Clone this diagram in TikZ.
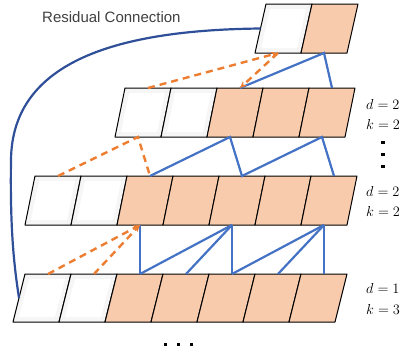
\documentclass[tikz,border=0pt]{standalone}
\usepackage{amsmath}
\usepackage{xcolor}
\usepackage{fontspec}
\usepackage{tikz}
\usetikzlibrary{arrows.meta}
\newfontfamily\labelfont{Liberation Sans}
\definecolor{cellorange}{HTML}{F8CBAD}
\definecolor{linkblue}{HTML}{4472C4}
\definecolor{resblue}{HTML}{2F4F99}
\definecolor{padorange}{HTML}{ED7D31}

% a row of cells: name, top-left x, top y, skew, height, white cells, all cells
\newcommand{\cellrow}[7]{%
  \foreach \i in {1,...,#7}{
    \pgfmathsetmacro\xa{#2+(\i-1)*46}
    \ifnum\i>#6
      \fill[cellorange] (\xa,#3) -- ++(46,0) -- ++(-#4,#5) -- ++(-46,0) -- cycle;
    \else
      \fill[gray!7] (\xa,#3) -- ++(46,0) -- ++(-#4,#5) -- ++(-46,0) -- cycle;
      \fill[white] (\xa+4,#3+5) -- (\xa+40,#3+5) -- (\xa+42-#4,#3+#5-5) -- (\xa+6-#4,#3+#5-5) -- cycle;
      \draw[gray!18,very thin] (\xa,#3) -- (\xa+4,#3+5) (\xa+46,#3) -- (\xa+40,#3+5)
        (\xa+46-#4,#3+#5) -- (\xa+42-#4,#3+#5-5) (\xa-#4,#3+#5) -- (\xa+6-#4,#3+#5-5);
    \fi
    \draw[cellline] (\xa,#3) -- ++(46,0) -- ++(-#4,#5) -- ++(-46,0) -- cycle;
    \coordinate (#1-\i-t) at (\xa+23,#3);
    \coordinate (#1-\i-b) at (\xa+23-#4,#3+#5);
    \coordinate (#1-\i-l) at (\xa-#4/2,#3+#5/2);
  }
}

\begin{document}
\begin{tikzpicture}[x=1pt,y=-1pt,>={Stealth[length=7pt,width=6pt]},
  cellline/.style={black,line width=1pt,line join=round},
  conv/.style={linkblue,line width=2.2pt},
  pad/.style={padorange,line width=2.4pt,dash pattern=on 7pt off 5pt},
  lab/.style={anchor=west,inner sep=0pt,font=\fontsize{14.5}{16}\selectfont}]
  \useasboundingbox (0,0) rectangle (407,351);
  % righe di celle
  \cellrow{r1}{266}{4}{11}{49}{1}{2}
  \cellrow{r2}{125}{88}{10}{49}{2}{5}
  \cellrow{r3}{35}{176}{10}{49}{2}{7}
  \cellrow{r4}{25}{274}{12}{48}{2}{7}
  % residual
  \node[anchor=west,inner sep=0pt,text=black!75,font=\labelfont\fontsize{15}{17}\selectfont] (res) at (42,17) {Residual Connection};
  \coordinate (bend) at (11,160);
  \draw[resblue,line width=2.2pt] (r1-1-l) .. controls (120,30) and (12,60) .. (bend)
    .. controls (10,230) and (14,265) .. (r4-1-l);
  % convoluzioni
  \draw[conv] (r2-3-t) -- (r1-2-b) -- (r2-5-t);
  \draw[conv] (r3-3-t) -- (r2-3-b) -- (r3-5-t) -- (r2-5-b) -- (r3-7-t);
  \draw[conv] (r4-3-t) -- (r3-3-b);
  \foreach \k in {3,4,5} \draw[conv] (r4-\k-t) -- (r3-5-b);
  \foreach \k in {5,6,7} \draw[conv] (r4-\k-t) -- (r3-7-b);
  % padding
  \draw[pad,->] (r2-1-t) -- (r1-1-b);
  \draw[pad,->] (r1-1-b) -- (r2-3-t);
  \draw[pad] (r3-1-t) -- (r2-1-b) -- (r3-3-t);
  \draw[pad,->] (r4-1-t) -- (r3-3-b);
  \draw[pad,->] (r4-2-t) -- (r3-3-b);
  % etichette
  \node[lab] (d1) at (366,104) {$d=2$};
  \node[lab] (k1) at (366,124) {$k=2$};
  \foreach \y in {142,154,166} \fill (381,\y-1.5) rectangle ++(3.5,3.5);
  \node[lab] (d2) at (366,191) {$d=2$};
  \node[lab] (k2) at (366,211) {$k=2$};
  \node[lab] (d3) at (366,288) {$d=1$};
  \node[lab] (k3) at (366,309) {$k=3$};
  \foreach \x in {165,178,191} \fill (\x-1.5,342.5) rectangle ++(3.5,3.5);
\end{tikzpicture}
\end{document}
